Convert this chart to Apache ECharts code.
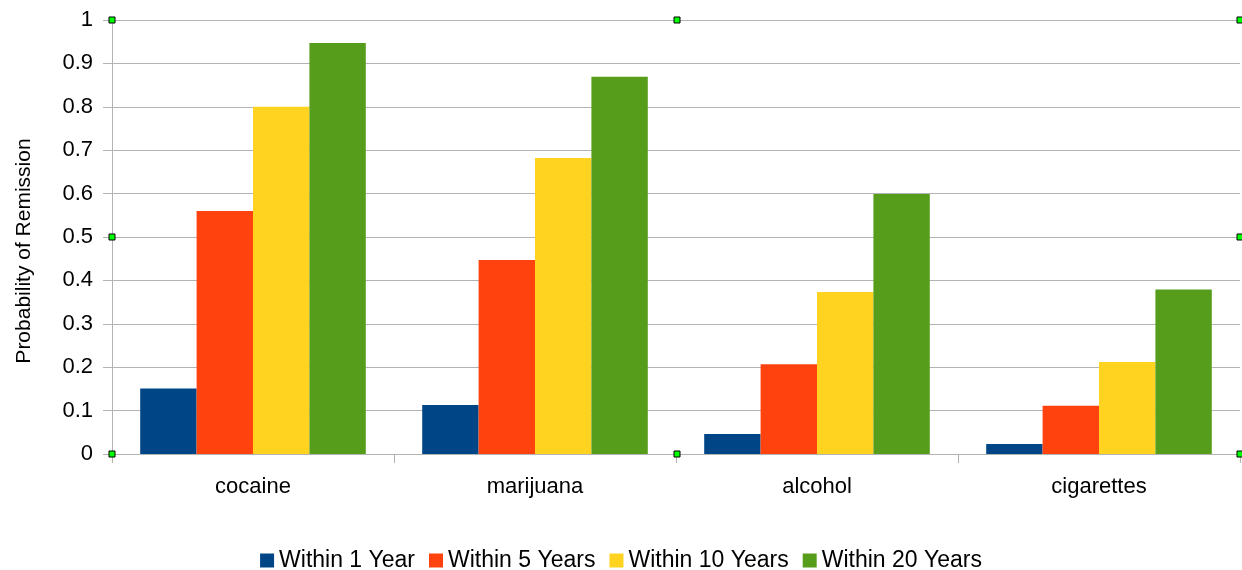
<!DOCTYPE html>
<html><head><meta charset="utf-8">
<script src="https://cdn.jsdelivr.net/npm/echarts@6/dist/echarts.min.js"></script>
<style>html,body{margin:0;padding:0;background:#fff}#c{width:1242px;height:570px}</style>
</head><body><div id="c"></div>
<script>
const categories = ['cocaine', 'marijuana', 'alcohol', 'cigarettes'];
const seriesNames = ['Within 1 Year', 'Within 5 Years', 'Within 10 Years', 'Within 20 Years'];
const within1 = [0.151, 0.113, 0.046, 0.023];
const within5 = [0.560, 0.447, 0.207, 0.111];
const within10 = [0.800, 0.682, 0.373, 0.212];
const within20 = [0.947, 0.869, 0.599, 0.379];
const colors = ['#004586', '#ff420e', '#ffd320', '#579d1c'];
const values = [within1, within5, within10, within20];

const chart = echarts.init(document.getElementById('c'), null, {renderer: 'canvas'});
const font = 'Liberation Sans, Arial, sans-serif';
const handles = [[112,20],[677,20],[1240,20],[112,237],[1240,237],[112,454],[677,454],[1240,454]];
chart.setOption({
  animation: false,
  color: colors,
  grid: {left: 112, right: 2, top: 20, bottom: 116, containLabel: false, outerBoundsMode: 'none'},
  legend: {
    top: 544, left: 'center', itemWidth: 14, itemHeight: 14, itemGap: 14,
    icon: 'rect',
    textStyle: {fontFamily: font, fontSize: 23, color: '#000'}
  },
  xAxis: {
    type: 'category', data: categories,
    axisLine: {lineStyle: {color: '#b3b3b3', width: 1}},
    axisTick: {show: true, length: 9, lineStyle: {color: '#b3b3b3'}},
    axisLabel: {fontFamily: font, fontSize: 22, color: '#000', margin: 22}
  },
  yAxis: {
    type: 'value', min: 0, max: 1, interval: 0.1,
    name: 'Probability of Remission', nameLocation: 'middle', nameGap: 77,
    nameTextStyle: {fontFamily: font, fontSize: 21, color: '#000', padding: [0, 28, 0, 0]},
    axisLine: {show: true, lineStyle: {color: '#b3b3b3'}},
    axisTick: {show: true, length: 9, lineStyle: {color: '#b3b3b3'}},
    axisLabel: {fontFamily: font, fontSize: 22, color: '#000', margin: 19,
      formatter: v => String(Math.round(v*10)/10)},
    splitLine: {lineStyle: {color: '#b3b3b3', width: 1}}
  },
  series: seriesNames.map((n, i) => ({
    name: n, type: 'bar', data: values[i],
    barGap: '0%', barCategoryGap: '20%',
    itemStyle: {color: colors[i]}
  })),
  graphic: handles.map(([x, y]) => ({
    type: 'rect', shape: {x: x - 3, y: y - 3, width: 6, height: 6},
    style: {fill: '#00ff00', stroke: '#000', lineWidth: 1}, z: 100
  }))
});
</script></body></html>
